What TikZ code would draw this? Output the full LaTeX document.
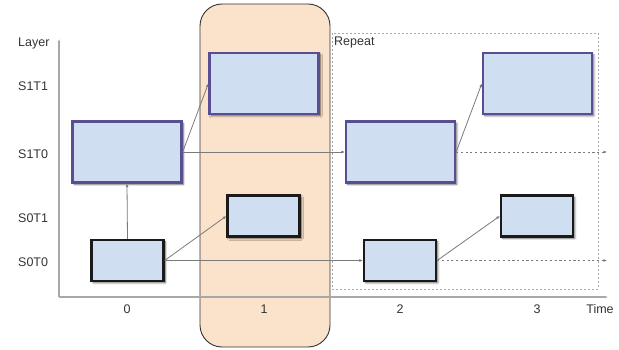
\documentclass[tikz,border=0pt]{standalone}
\usepackage{fontspec}
\setmainfont{Liberation Sans}
\usetikzlibrary{arrows.meta,shadows.blur}
\definecolor{boxfill}{HTML}{CFDFF1}
\definecolor{purpleedge}{HTML}{5A4E92}
\definecolor{darkedge}{HTML}{1A1A1A}
\definecolor{peach}{HTML}{FBE2CB}
\definecolor{axisgray}{HTML}{A8A8A8}
\definecolor{linegray}{HTML}{7A7A7A}
\definecolor{labelgray}{HTML}{333333}
\tikzset{
  boxbase/.style={draw, fill=boxfill, line width=2.3pt, inner sep=0pt,
    blur shadow={shadow xshift=1.8pt, shadow yshift=-1.8pt, shadow blur steps=6,
      shadow blur radius=2pt, shadow opacity=60}},
  bigbox/.style={boxbase, draw=purpleedge, minimum width=109pt, minimum height=61pt},
  smallbox/.style={boxbase, draw=darkedge, minimum width=72pt, minimum height=41pt},
  link/.style={draw=linegray, line width=0.8pt, -{Latex[length=3.5pt,width=3pt]}},
  tail/.style={link, dash pattern=on 2.2pt off 2.5pt},
  lbl/.style={font=\fontsize{12.5}{14}\selectfont, text=labelgray, inner sep=0pt},
  axis/.style={draw=axisgray, line width=1.3pt, -{Latex[length=3.5pt,width=3pt]}}
}
\begin{document}
\begin{tikzpicture}[x=1pt,y=-1pt]
  \useasboundingbox (0,0) rectangle (619,350);

  % highlighted time step
  \draw[fill=peach, draw=labelgray, line width=0.9pt, rounded corners=22pt]
    (200,4) rectangle (330,347);

  % repeated region
  \draw[draw=axisgray, line width=0.9pt, dash pattern=on 2pt off 2pt]
    (332,33) rectangle (598,289);
  \node[lbl, anchor=west] (repeat) at (334,42) {Repeat};

  % axes
  \coordinate (origin) at (59,297);
  \coordinate (ytop) at (59,39);
  \coordinate (xend) at (608,297);
  \draw[axis] (origin) -- (ytop);
  \draw[axis] (origin) -- (xend);

  % axis labels
  \node[lbl, anchor=west] (layer) at (18,43) {Layer};
  \node[lbl, anchor=west] (l11) at (18,86) {S1T1};
  \node[lbl, anchor=west] (l10) at (18,154) {S1T0};
  \node[lbl, anchor=west] (l01) at (18,218) {S0T1};
  \node[lbl, anchor=west] (l00) at (18,262) {S0T0};
  \node[lbl] (t0) at (127,309) {0};
  \node[lbl] (t1) at (264,309) {1};
  \node[lbl] (t2) at (400,309) {2};
  \node[lbl] (t3) at (537,309) {3};
  \node[lbl] (time) at (600,309) {Time};

  % tasks
  \node[bigbox] (a10) at (127,152) {};
  \node[bigbox] (b11) at (264,83.5) {};
  \node[bigbox] (c10) at (400.5,152) {};
  \node[bigbox] (d11) at (537.5,83.5) {};
  \node[smallbox] (a00) at (127.5,260.5) {};
  \node[smallbox] (b01) at (263.5,216) {};
  \node[smallbox] (c00) at (400,260.5) {};
  \node[smallbox] (d01) at (537,216) {};

  % open ends of the repeated edges
  \coordinate (e10) at (607,152);
  \coordinate (e00) at (607,260.5);

  % dependencies
  \draw[link] (a00.north) -- (a10.south);
  \draw[link] (a10.east) -- (b11.west);
  \draw[link] (a10.east) -- (c10.west);
  \draw[link] (a00.east) -- (b01.west);
  \draw[link] (a00.east) -- (c00.west);
  \draw[link] (c10.east) -- (d11.west);
  \draw[link] (c00.east) -- (d01.west);
  \draw[tail] (c10.east) -- (e10);
  \draw[tail] (c00.east) -- (e00);
\end{tikzpicture}
\end{document}
